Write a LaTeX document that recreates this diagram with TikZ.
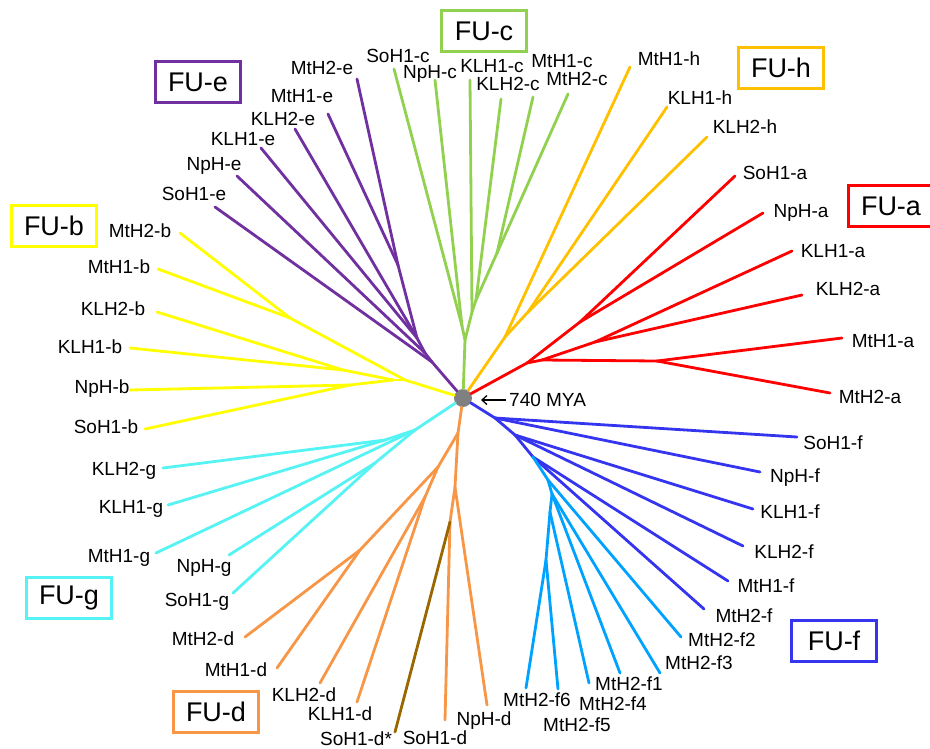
\documentclass[tikz,border=0pt]{standalone}
\usepackage{fontspec}
\setmainfont{Liberation Sans}
\usetikzlibrary{arrows.meta}

\definecolor{fua}{HTML}{FF0000}
\definecolor{fub}{HTML}{FFFF00}
\definecolor{fuc}{HTML}{92D050}
\definecolor{fud}{HTML}{F79646}
\definecolor{fue}{HTML}{7030A0}
\definecolor{fuf}{HTML}{3535F0}
\definecolor{fufl}{HTML}{00A2FF}
\definecolor{fug}{HTML}{55F3F3}
\definecolor{fuh}{HTML}{FFC000}
\definecolor{dstar}{HTML}{996600}
\definecolor{rootgray}{HTML}{808080}

\tikzset{
  branch/.style={line width=2.8pt, line cap=round},
  leaf/.style={inner sep=0pt, text height=13.6pt, text depth=0pt, font=\fontsize{19}{22}\selectfont},
  fubox/.style={draw, line width=3pt, inner sep=0pt, minimum width=85pt, minimum height=41pt, font=\fontsize{27}{30}\selectfont},
}

\begin{document}
\begin{tikzpicture}[x=1pt,y=-1pt]
\useasboundingbox (0,0) rectangle (930,748);

% Root
\node[circle, fill=rootgray, inner sep=0pt, minimum size=18pt] (root) at (463,398) {};

% FU-e (purple)
\foreach \n/\x/\y in {MtH2e/357/79, MtH1e/328/114, KLH2e/295/129, KLH1e/261/148, NpHe/237/176, SoH1e/215/207,
    e1/432/362, e2/425/353, e3/417/338, e4/398/265}
    \coordinate (\n) at (\x,\y);
\foreach \a/\b in {root/e1, e1/SoH1e, e1/e2, e2/NpHe, e2/e3, e3/KLH1e, e3/KLH2e, e3/e4, e4/MtH1e, e4/MtH2e}
    \draw[branch, fue] (\a) -- (\b);

% FU-c (green)
\foreach \n/\x/\y in {SoH1c/394/69, NpHc/435/80, KLH1c/470/80, KLH2c/501/99, MtH1c/533/97, MtH2c/568/94,
    c1/465/340, c2/462/326, c3/472/312, c4/476/300, c5/497/253}
    \coordinate (\n) at (\x,\y);
\foreach \a/\b in {root/c1, c1/c2, c2/SoH1c, c2/NpHc, c1/c3, c3/KLH1c, c3/c4, c4/KLH2c, c4/c5, c5/MtH1c, c5/MtH2c}
    \draw[branch, fuc] (\a) -- (\b);

% FU-h (gold)
\foreach \n/\x/\y in {MtH1h/630/67, KLH1h/667/107, KLH2h/707/137, h1/505/337, h2/528/312}
    \coordinate (\n) at (\x,\y);
\foreach \a/\b in {root/h1, h1/MtH1h, h1/h2, h2/KLH1h, h2/KLH2h}
    \draw[branch, fuh] (\a) -- (\b);

% FU-a (red)
\foreach \n/\x/\y in {SoH1a/735/176, NpHa/763/213, KLH1a/792/251, KLH2a/802/295, MtH1a/842/338, MtH2a/830/393,
    a1/527/363, a2/580/322, a3/542/360, a4/595/342, a5/657/361}
    \coordinate (\n) at (\x,\y);
\foreach \a/\b in {root/a1, a1/a2, a2/SoH1a, a2/NpHa, a1/a3, a3/a4, a4/KLH1a, a4/KLH2a, a3/a5, a5/MtH1a, a5/MtH2a}
    \draw[branch, fua] (\a) -- (\b);

% FU-b (yellow)
\foreach \n/\x/\y in {MtH2b/180/233, MtH1b/158/269, KLH2b/157/312, KLH1b/130/348, NpHb/130/390, SoH1b/145/429,
    b1/405/380, b2/290/318, b3/393/380, b4/343/370, b5/350/385}
    \coordinate (\n) at (\x,\y);
\foreach \a/\b in {root/b1, b1/b2, b2/MtH2b, b2/MtH1b, b1/b3, b3/b4, b4/KLH2b, b4/KLH1b, b3/b5, b5/NpHb, b5/SoH1b}
    \draw[branch, fub] (\a) -- (\b);

% FU-g (cyan)
\foreach \n/\x/\y in {KLH2g/163/468, KLH1g/168/505, MtH1g/156/553, NpHg/229/555, SoH1g/233/593,
    g1/415/430, g2/385/440, g3/375/463}
    \coordinate (\n) at (\x,\y);
\foreach \a/\b in {root/g1, g1/g2, g2/KLH2g, g2/KLH1g, g1/MtH1g, g1/g3, g3/NpHg, g3/SoH1g}
    \draw[branch, fug] (\a) -- (\b);

% FU-d (orange)
\foreach \n/\x/\y in {MtH2d/245/637, MtH1d/277/668, KLH2d/320/683, KLH1d/357/702, SoH1d/445/720, NpHd/487/705, SoH1ds/395/732,
    d1/458/433, d2/438/467, d3/360/550, d4/425/497, d5/455/487, d6/450/522}
    \coordinate (\n) at (\x,\y);
\foreach \a/\b in {root/d1, d1/d2, d2/d3, d3/MtH2d, d3/MtH1d, d2/d4, d4/KLH2d, d4/KLH1d, d1/d5, d5/NpHd, d5/d6, d6/SoH1d}
    \draw[branch, fud] (\a) -- (\b);
\draw[branch, dstar] (d6) -- (SoH1ds);

% FU-f (blue)
\foreach \n/\x/\y in {SoH1f/797/437, NpHf/760/472, KLH1f/753/509, KLH2f/743/546, MtH1f/728/581, MtH2f/704/609,
    f1/495/418, f2/515/435, f3/533/457}
    \coordinate (\n) at (\x,\y);
\foreach \a/\b in {root/f1, f1/SoH1f, f1/NpHf, f1/f2, f2/KLH1f, f2/KLH2f, f2/f3, f3/MtH1f, f3/MtH2f}
    \draw[branch, fuf] (\a) -- (\b);

% MtH2-f paralogues (light blue)
\foreach \n/\x/\y in {MtH2fb/681/637, MtH2fc/660/673, MtH2fa/620/673, MtH2fd/589/683, MtH2fe/558/689, MtH2ff/526/688,
    k1/548/480, k2/552/494, k3/550/512, k4/546/560}
    \coordinate (\n) at (\x,\y);
\foreach \a/\b in {f3/k1, k1/MtH2fb, k1/k2, k2/MtH2fc, k2/MtH2fa, k2/k3, k3/MtH2fd, k3/k4, k4/MtH2ff, k4/MtH2fe}
    \draw[branch, fufl] (\a) -- (\b);

% Leaf labels
\foreach \n/\x/\y/\t in {
    MtH2e/322/68/MtH2-e, MtH1e/302/96/MtH1-e, KLH2e/283/119/KLH2-e, KLH1e/243/139/KLH1-e, NpHe/214/164/NpH-e, SoH1e/194/194/SoH1-e,
    SoH1c/398/56/SoH1-c, NpHc/430/72/NpH-c, KLH1c/492/66/KLH1-c, KLH2c/508/84/KLH2-c, MtH1c/562/61/MtH1-c, MtH2c/577/79/MtH2-c,
    MtH1h/669/59/MtH1-h, KLH1h/700/98/KLH1-h, KLH2h/745/127/KLH2-h,
    SoH1a/775/173/SoH1-a, NpHa/801/211/NpH-a, KLH1a/833/251/KLH1-a, KLH2a/848/289/KLH2-a, MtH1a/883/341/MtH1-a, MtH2a/870/397/MtH2-a,
    MtH2b/140/231/MtH2-b, MtH1b/119/267/MtH1-b, KLH2b/113/309/KLH2-b, KLH1b/90/347/KLH1-b, NpHb/102/387/NpH-b, SoH1b/106/427/SoH1-b,
    KLH2g/124/469/KLH2-g, KLH1g/131/507/KLH1-g, MtH1g/119/556/MtH1-g, NpHg/204/566/NpH-g, SoH1g/197/600/SoH1-g,
    MtH2d/203/639/MtH2-d, MtH1d/236/670/MtH1-d, KLH2d/304/695/KLH2-d, KLH1d/340/714/KLH1-d, SoH1ds/356/739/SoH1-d*, SoH1d/435/738/SoH1-d, NpHd/484/719/NpH-d,
    SoH1f/833/443/SoH1-f, NpHf/795/476/NpH-f, KLH1f/790/512/KLH1-f, KLH2f/784/552/KLH2-f, MtH1f/766/586/MtH1-f, MtH2f/744/616/MtH2-f,
    MtH2fb/722/640/MtH2-f2, MtH2fc/699/663/MtH2-f3, MtH2fa/629/684/MtH2-f1, MtH2fd/613/704/MtH2-f4, MtH2fe/577/725/MtH2-f5, MtH2ff/537/700/MtH2-f6}
    \node[leaf] (l\n) at (\x,\y) {\t};

% Family boxes
\node[fubox, fue] (boxe) at (198,82) {\color{black}FU-e};
\node[fubox, fuc] (boxc) at (484,31) {\color{black}FU-c};
\node[fubox, fuh] (boxh) at (781,68) {\color{black}FU-h};
\node[fubox, fua] (boxa) at (891,206) {\color{black}FU-a};
\node[fubox, fub] (boxb) at (54,226) {\color{black}FU-b};
\node[fubox, fug] (boxg) at (69,598) {\color{black}FU-g};
\node[fubox, fud] (boxd) at (216,712) {\color{black}FU-d};
\node[fubox, fuf] (boxf) at (834,641) {\color{black}FU-f};

% Divergence time
\node[leaf, anchor=west] (lmya) at (509,400) {740 MYA};
\coordinate (myatip) at (481,400);
\draw[-{Straight Barb[length=5pt,width=9pt]}, line width=1.3pt, shorten <=3pt] (lmya.west) -- (myatip);

\end{tikzpicture}
\end{document}
